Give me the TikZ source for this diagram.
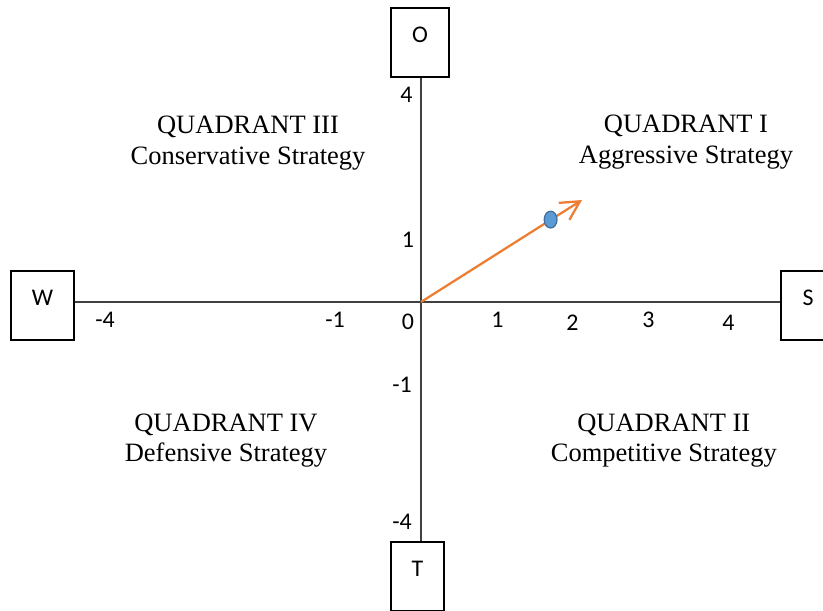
\documentclass[tikz,border=0pt]{standalone}
\usepackage{fontspec}
\setmainfont{Carlito}
\newfontfamily\quadfont{Liberation Serif}
\usetikzlibrary{arrows.meta}
\definecolor{swotOrange}{RGB}{237,125,49}
\definecolor{swotBlue}{RGB}{91,155,213}
\definecolor{swotBlueDark}{RGB}{65,113,156}
\definecolor{axisgray}{RGB}{64,64,64}

\tikzset{
  swotbox/.style={draw=black, line width=0.8pt, inner sep=0pt,
    minimum height=1.725cm, text height=0.37cm, text depth=0.38cm,
    font=\fontsize{17pt}{20pt}\selectfont},
  ticklabel/.style={inner sep=0pt, font=\fontsize{17pt}{20pt}\selectfont},
  quadlabel/.style={align=center, inner sep=0pt,
    font=\quadfont\fontsize{18.85pt}{21.6pt}\selectfont},
}

\begin{document}
\begin{tikzpicture}[x=1cm,y=1cm]
\useasboundingbox (-10.525,-7.725) rectangle (10.05,7.55);
\coordinate (c) at (0,0);

% =========================
% 1. end boxes
% =========================
\node[swotbox, minimum width=1.45cm]  (O) at (-0.025,6.4875)  {O};
\node[swotbox, minimum width=1.325cm] (T) at (-0.0875,-6.8625) {T};
\node[swotbox, minimum width=1.575cm] (W) at (-9.4625,-0.0875) {W};
\node[swotbox, minimum width=1.35cm]  (S) at (9.675,-0.0875)   {S};

% =========================
% 2. axes
% =========================
\draw[axisgray, line width=0.8pt] (O.south -| c) -- (T.north -| c);
\draw[axisgray, line width=0.8pt] (W.east |- c) -- (S.west |- c);

% tick numbers
\foreach \lab/\xx/\yy [count=\i] in {-4/-7.9/-0.45, -1/-2.15/-0.45, 0/-0.325/-0.4875,
    1/1.9125/-0.45, 2/3.7875/-0.525, 3/5.6875/-0.45, 4/7.6875/-0.5125}
  \node[ticklabel] (xt\i) at (\xx,\yy) {\lab};
\foreach \lab/\xx/\yy [count=\i] in {4/-0.3625/5.175, 1/-0.325/1.55,
    -1/-0.475/-2.0625, -4/-0.475/-5.4875}
  \node[ticklabel] (yt\i) at (\xx,\yy) {\lab};

% =========================
% 3. quadrants
% =========================
\node[quadlabel] (q3) at (-4.325,3.975)  {QUADRANT III\\Conservative Strategy};
\node[quadlabel] (q1) at (6.625,4.0)     {QUADRANT I\\Aggressive Strategy};
\node[quadlabel] (q4) at (-4.875,-3.46)  {QUADRANT IV\\Defensive Strategy};
\node[quadlabel] (q2) at (6.07,-3.46)    {QUADRANT II\\Competitive Strategy};

% =========================
% 4. strategy vector
% =========================
\coordinate (tip) at (4.025,2.55);
\draw[swotOrange, line width=1.6pt, -{Straight Barb[length=0.47cm,width=0.5cm]}] (c) -- (tip);
\filldraw[fill=swotBlue, draw=swotBlueDark, line width=0.9pt] (3.24,2.06) ellipse (0.16cm and 0.21cm);

\end{tikzpicture}
\end{document}
